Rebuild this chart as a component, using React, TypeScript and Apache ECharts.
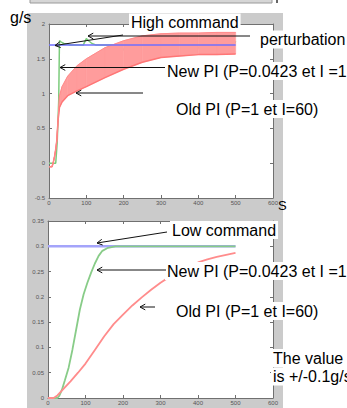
import React, { useEffect, useRef } from "react";
import * as echarts from "echarts";

// ---------- top chart (High command) ----------
const topRedT = [0, 8, 11, 15, 18, 21, 24, 28, 35, 50, 75, 100, 150, 200, 250, 300, 350, 400, 450, 500];
const topRedLow = [-0.05, -0.05, 0, 0.1, 0.2, 0.33, 0.6, 0.8, 0.88, 0.97, 1.04, 1.1, 1.23, 1.35, 1.45, 1.52, 1.54, 1.56, 1.56, 1.57];
const topRedHigh = [-0.05, -0.05, 0, 0.1, 0.2, 0.33, 0.6, 0.97, 1.1, 1.25, 1.4, 1.5, 1.66, 1.76, 1.83, 1.86, 1.87, 1.87, 1.88, 1.88];
const topGreenT = [0, 18, 22, 26, 28, 33, 40, 55, 70, 92, 100, 106, 115, 125, 192, 200, 208, 295, 300, 306, 395, 400, 406, 495, 500];
const topGreen = [0, 0, 0.3, 0.9, 1.76, 1.74, 1.72, 1.7, 1.7, 1.7, 1.79, 1.76, 1.72, 1.7, 1.7, 1.62, 1.7, 1.7, 1.77, 1.7, 1.7, 1.65, 1.7, 1.7, 1.75];
const topBlueT = [0, 500];
const topBlue = [1.7, 1.7];

// ---------- bottom chart (Low command) ----------
const botGreenT = [0, 25, 30, 37, 45, 55, 65, 75, 85, 95, 105, 115, 125, 135, 145, 160, 180, 200, 500];
const botGreen = [0, 0, 0.004, 0.016, 0.035, 0.06, 0.095, 0.135, 0.175, 0.205, 0.228, 0.248, 0.266, 0.281, 0.291, 0.297, 0.3, 0.3, 0.3];
const botRedT = [0, 15, 25, 40, 60, 80, 100, 125, 150, 175, 200, 225, 250, 275, 300, 325, 350, 375, 400, 425, 450, 475, 500];
const botRed = [0, 0, 0.005, 0.017, 0.033, 0.05, 0.068, 0.095, 0.122, 0.146, 0.165, 0.183, 0.199, 0.214, 0.228, 0.24, 0.251, 0.26, 0.268, 0.274, 0.279, 0.283, 0.287];
const botBlueT = [0, 500];
const botBlue = [0.3, 0.3];

const FONT = '"Liberation Sans", Arial, Helvetica, sans-serif';

const zip = (xs: number[], ys: number[]) => xs.map((x, i) => [x, ys[i]]);

function xAx(gridIndex: number, position: string, showLabel: boolean) {
  return {
    type: "value",
    gridIndex,
    position,
    min: 0,
    max: 600,
    interval: 100,
    axisLine: { show: true, onZero: false, lineStyle: { color: "#707070", width: 1 } },
    axisTick: { show: true, inside: true, length: 3, lineStyle: { color: "#707070" } },
    axisLabel: { show: showLabel, fontSize: 6, color: "#555", margin: 2, fontFamily: FONT },
    splitLine: { show: false },
  };
}

function yAx(gridIndex: number, position: string, showLabel: boolean, min: number, max: number, interval: number) {
  return {
    type: "value",
    gridIndex,
    position,
    min,
    max,
    interval,
    axisLine: { show: true, onZero: false, lineStyle: { color: "#707070", width: 1 } },
    axisTick: { show: true, inside: true, length: 3, lineStyle: { color: "#707070" } },
    axisLabel: { show: showLabel, fontSize: 6, color: "#555", margin: 4, fontFamily: FONT },
    splitLine: { show: false },
  };
}

function text(t: string, x: number, y: number, size: number, bg: boolean) {
  const style: any = {
    text: t,
    fill: "#000",
    font: `${size}px ${FONT}`,
    align: "left",
    verticalAlign: "middle",
  };
  if (bg) {
    style.backgroundColor = "#fff";
    style.padding = [1, 2];
  }
  return { type: "text", x: bg ? x - 2 : x, y, style, z: 100 };
}

function arrow(x1: number, y1: number, x2: number, y2: number) {
  const ang = Math.atan2(y1 - y2, x1 - x2);
  const L = 6;
  const s = 0.5;
  const p1 = [x2 + L * Math.cos(ang + s), y2 + L * Math.sin(ang + s)];
  const p2 = [x2 + L * Math.cos(ang - s), y2 + L * Math.sin(ang - s)];
  return [
    { type: "line", shape: { x1, y1, x2, y2 }, style: { stroke: "#111", lineWidth: 1 }, z: 100 },
    { type: "polyline", shape: { points: [p1, [x2, y2], p2] }, style: { stroke: "#111", fill: null, lineWidth: 1 }, z: 100 },
  ];
}

export default function App() {
  const ref = useRef<HTMLDivElement>(null);

  useEffect(() => {
    if (!ref.current) return;
    const chart = echarts.init(ref.current, null, { renderer: "svg" });

    const bandData: number[][] = [];
    for (let i = 0; i < topRedT.length - 1; i++) {
      bandData.push([topRedT[i], topRedLow[i], topRedHigh[i], topRedT[i + 1], topRedLow[i + 1], topRedHigh[i + 1]]);
    }

    const lineBase = { type: "line", symbol: "none", showSymbol: false, silent: true };

    const option: any = {
      animation: false,
      backgroundColor: "#fff",
      grid: [
        { left: 49, top: 24, width: 224, height: 174, show: true, backgroundColor: "#fff", borderWidth: 0 },
        { left: 48, top: 221, width: 225, height: 177, show: true, backgroundColor: "#fff", borderWidth: 0 },
      ],
      xAxis: [xAx(0, "bottom", true), xAx(0, "top", false), xAx(1, "bottom", true), xAx(1, "top", false)],
      yAxis: [
        yAx(0, "left", true, -0.5, 2, 0.5),
        yAx(0, "right", false, -0.5, 2, 0.5),
        yAx(1, "left", true, 0, 0.35, 0.05),
        yAx(1, "right", false, 0, 0.35, 0.05),
      ],
      series: [
        // top
        { ...lineBase, name: "New PI (high)", xAxisIndex: 0, yAxisIndex: 0, data: zip(topGreenT, topGreen), lineStyle: { color: "#7ccc7c", width: 1.5 }, z: 2 },
        {
          type: "custom",
          name: "Old PI band",
          xAxisIndex: 0,
          yAxisIndex: 0,
          silent: true,
          data: bandData,
          encode: { x: [0, 3], y: [1, 2, 4, 5] },
          renderItem: (_p: any, api: any) => {
            const a0 = api.coord([api.value(0), api.value(1)]);
            const b0 = api.coord([api.value(0), api.value(2)]);
            const a1 = api.coord([api.value(3), api.value(4)]);
            const b1 = api.coord([api.value(3), api.value(5)]);
            return {
              type: "polygon",
              shape: { points: [a0, a1, b1, b0] },
              style: { fill: "#ff9c9c", stroke: "#ff9c9c", lineWidth: 0.6 },
            };
          },
          z: 3,
        },
        { ...lineBase, name: "Old PI low", xAxisIndex: 0, yAxisIndex: 0, data: zip(topRedT, topRedLow), lineStyle: { color: "#ff7676", width: 1.5 }, z: 3 },
        { ...lineBase, name: "Old PI high", xAxisIndex: 0, yAxisIndex: 0, data: zip(topRedT, topRedHigh), lineStyle: { color: "#ff8a8a", width: 1 }, z: 3 },
        { ...lineBase, name: "High command", xAxisIndex: 0, yAxisIndex: 0, data: zip(topBlueT, topBlue), lineStyle: { color: "#6f6fff", width: 1.5 }, z: 4 },
        // bottom
        { ...lineBase, name: "Low command", xAxisIndex: 2, yAxisIndex: 2, data: zip(botBlueT, botBlue), lineStyle: { color: "#a4a4fa", width: 2.5 }, z: 2 },
        { ...lineBase, name: "New PI (low)", xAxisIndex: 2, yAxisIndex: 2, data: zip(botGreenT, botGreen), lineStyle: { color: "#88cc88", width: 1.8 }, z: 3 },
        { ...lineBase, name: "Old PI (low)", xAxisIndex: 2, yAxisIndex: 2, data: zip(botRedT, botRed), lineStyle: { color: "#ff8c8c", width: 1.8 }, z: 3 },
      ],
      graphic: [
        { type: "rect", shape: { x: 27, y: 13, width: 256, height: 395 }, style: { fill: "#cbcbcb" }, z: -10 },
        { type: "rect", shape: { x: 30, y: -1, width: 242, height: 4 }, style: { fill: "#d6d6d6", stroke: "#9a9a9a", lineWidth: 1 }, z: -10 },
        { type: "rect", shape: { x: 276, y: 0, width: 2, height: 3 }, style: { fill: "#666" }, z: -10 },
        text("g/s", 10, 17, 16, false),
        text("S", 278, 205, 13, false),
        text("High command", 131, 22.5, 16, true),
        text("perturbation", 260, 39.5, 16, true),
        text("New PI (P=0.0423 et I =1", 167, 71, 16, true),
        text("Old PI (P=1 et I=60)", 176, 109, 16, true),
        text("Low command", 172, 230, 16, true),
        text("New PI (P=0.0423 et I =1", 167, 271, 16, true),
        text("Old PI (P=1 et I=60)", 176, 311, 16, true),
        text("The value", 273, 358, 16, true),
        text("is +/-0.1g/s", 273, 376.5, 16, true),
        ...arrow(123, 35, 55, 45.5),
        ...arrow(250, 36, 88, 36),
        ...arrow(165, 67.5, 60, 67.5),
        ...arrow(143, 93, 76, 93),
        ...arrow(167, 232, 97, 243),
        ...arrow(166, 270, 97, 270),
        ...arrow(155, 307, 140, 307),
      ],
    };

    chart.setOption(option);
    return () => chart.dispose();
  }, []);

  return <div ref={ref} style={{ position: "fixed", left: 0, top: 0, width: 347, height: 408 }} />;
}
